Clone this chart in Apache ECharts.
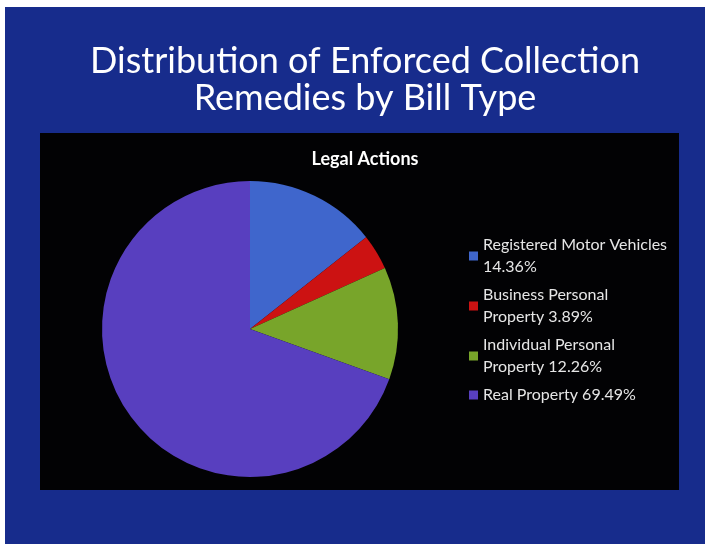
<!DOCTYPE html>
<html>
<head>
<meta charset="utf-8">
<script src="https://cdn.jsdelivr.net/npm/echarts@6/dist/echarts.min.js"></script>
<style>
  html, body { margin: 0; padding: 0; background: #fff; }
  #chart { width: 705px; height: 544px; }
</style>
</head>
<body>
<div id="chart"></div>
<script>
// bill types and their share of legal actions (%)
const billTypes = ['Registered Motor Vehicles', 'Business Personal Property', 'Individual Personal Property', 'Real Property']
const shares = [14.36, 3.89, 12.26, 69.49]
const sliceColors = ['#3f66cc', '#cc1212', '#78a52a', '#583fbf']

const legendFont = '16px Lato'
const legendWrap = 188

// greedy word wrap, like the slide's legend box
const measureCtx = document.createElement('canvas').getContext('2d')
function wrapText(text) {
  measureCtx.font = legendFont
  const words = text.split(' ')
  const lines = []
  let line = ''
  words.forEach(w => {
    const test = line ? line + ' ' + w : w
    if (line && measureCtx.measureText(test).width > legendWrap) {
      lines.push(line)
      line = w
    } else {
      line = test
    }
  })
  lines.push(line)
  return lines.join('\n')
}

const myChart = echarts.init(document.getElementById('chart'))

const option = {
  backgroundColor: '#172c8c',
  title: [
    {
      text: 'Distribution of Enforced Collection\nRemedies by Bill Type',
      left: 360,
      textAlign: 'center',
      top: 38,
      textStyle: {
        color: '#fff',
        fontFamily: 'Lato',
        fontWeight: 'normal',
        fontSize: 36,
        lineHeight: 37
      }
    },
    {
      text: 'Legal Actions',
      left: 360,
      textAlign: 'center',
      top: 145,
      textStyle: {
        color: '#fff',
        fontFamily: 'Lato',
        fontWeight: 'bold',
        fontSize: 18
      }
    }
  ],
  graphic: [
    // scan border strips
    { type: 'rect', shape: { x: 0, y: 0, width: 705, height: 7 }, style: { fill: '#fff' }, z: -1 },
    { type: 'rect', shape: { x: 0, y: 0, width: 5, height: 544 }, style: { fill: '#fff' }, z: -1 },
    // black chart area
    { type: 'rect', shape: { x: 40, y: 133, width: 639, height: 357 }, style: { fill: '#020204' }, z: -1 }
  ],
  legend: {
    orient: 'vertical',
    left: 464,
    top: 229,
    itemWidth: 9,
    itemHeight: 9,
    itemGap: 6,
    icon: 'rect',
    textStyle: {
      color: '#e6e6e6',
      fontFamily: 'Lato',
      fontSize: 16,
      lineHeight: 22
    },
    formatter: name => wrapText(name + ' ' + shares[billTypes.indexOf(name)].toFixed(2) + '%'),
    data: billTypes
  },
  series: [
    {
      type: 'pie',
      center: [250, 329],
      radius: 148,
      startAngle: 90,
      clockwise: true,
      label: { show: false },
      labelLine: { show: false },
      itemStyle: { borderWidth: 0 },
      emphasis: { disabled: true },
      data: billTypes.map((name, i) => ({
        name: name,
        value: shares[i],
        itemStyle: { color: sliceColors[i] }
      }))
    }
  ]
}

myChart.setOption(option)
</script>
</body>
</html>
